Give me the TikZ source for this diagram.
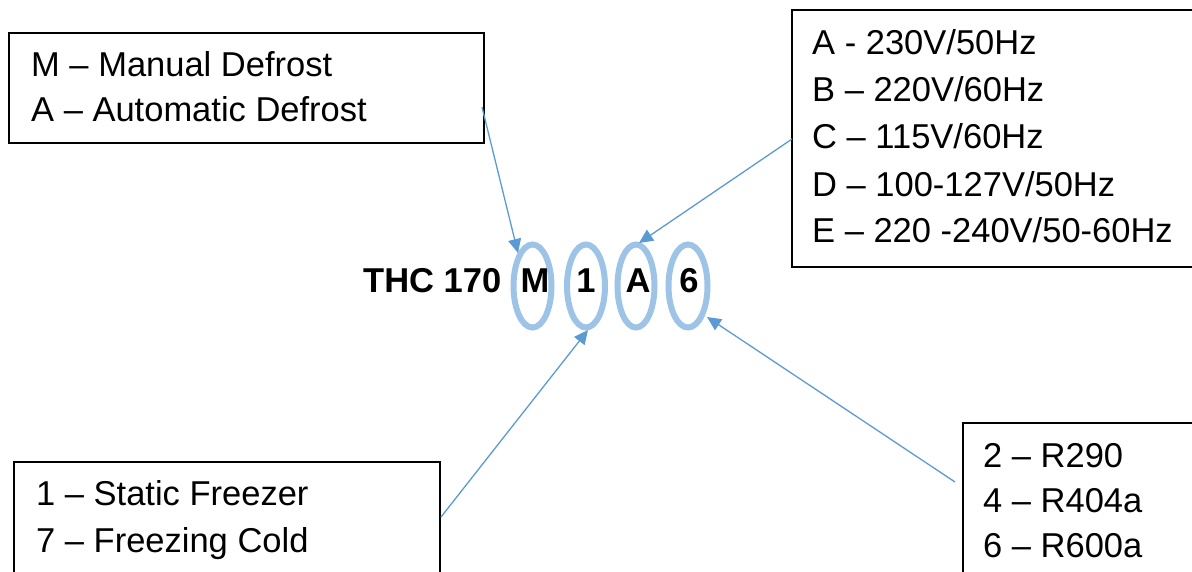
\documentclass[tikz,border=0pt]{standalone}
\usepackage{fontspec}
\setmainfont{Liberation Sans}
\usetikzlibrary{arrows.meta}
\definecolor{arrowblue}{HTML}{5B9BD5}
\definecolor{ringblue}{HTML}{9DC3E6}
\begin{document}
\begin{tikzpicture}[x=1pt,y=-1pt,
  box/.style={draw=black,line width=1.8pt},
  txt/.style={anchor=base west,inner sep=0pt,font=\fontsize{34.5}{40}\selectfont},
  code/.style={anchor=base,inner sep=0pt,font=\fontsize{34.5}{40}\selectfont\bfseries},
  ring/.style={draw=ringblue,line width=6pt},
  pointer/.style={draw=arrowblue,line width=1.3pt,-{Triangle[length=14pt,width=13pt]}}]
\useasboundingbox (0,0) rectangle (1192,571);
\clip (0,0) rectangle (1192,571);
% boxes
\draw[box] (9,33) rectangle (484,143) coordinate (tlbox);
\draw[box] (792,10) rectangle (1215,267) coordinate (trbox);
\draw[box] (14,462) rectangle (440,600) coordinate (blbox);
\draw[box] (963,423) rectangle (1215,600) coordinate (brbox);
% box texts
\node[txt] (tl1) at (31,76) {M – Manual Defrost};
\node[txt] (tl2) at (31,121) {A – Automatic Defrost};
\node[txt] (tr1) at (812,54) {A - 230V/50Hz};
\node[txt] (tr2) at (812,101) {B – 220V/60Hz};
\node[txt] (tr3) at (812,148) {C – 115V/60Hz};
\node[txt] (tr4) at (812,196) {D – 100-127V/50Hz};
\node[txt] (tr5) at (812,242) {E – 220 -240V/50-60Hz};
\node[txt] (bl1) at (36,505) {1 – Static Freezer};
\node[txt] (bl2) at (36,552) {7 – Freezing Cold};
\node[txt] (br1) at (983,467) {2 – R290};
\node[txt] (br2) at (983,512) {4 – R404a};
\node[txt] (br3) at (983,557) {6 – R600a};
% code
\node[code,anchor=base west] (thc) at (363,292) {THC 170};
\draw[ring] (532.5,286) ellipse (19 and 41.5);
\draw[ring] (586,286) ellipse (19 and 41.5);
\draw[ring] (636,286) ellipse (18.5 and 41.5);
\draw[ring] (688,286) ellipse (19.5 and 41.5);
\node[code] (cM) at (535,292) {M};
\node[code] (c1) at (586,292) {1};
\node[code] (cA) at (638,292) {A};
\node[code] (c6) at (689,292) {6};
% connector ends
\coordinate (s1) at (482,107);
\coordinate (t1) at (518,253);
\coordinate (s2) at (792,139);
\coordinate (t2) at (639,243);
\coordinate (s3) at (441,517);
\coordinate (t3) at (588,330);
\coordinate (s4) at (955,482);
\coordinate (t4) at (707,317);
\draw[pointer] (s1) -- (t1);
\draw[pointer] (s2) -- (t2);
\draw[pointer] (s3) -- (t3);
\draw[pointer] (s4) -- (t4);
\end{tikzpicture}
\end{document}
